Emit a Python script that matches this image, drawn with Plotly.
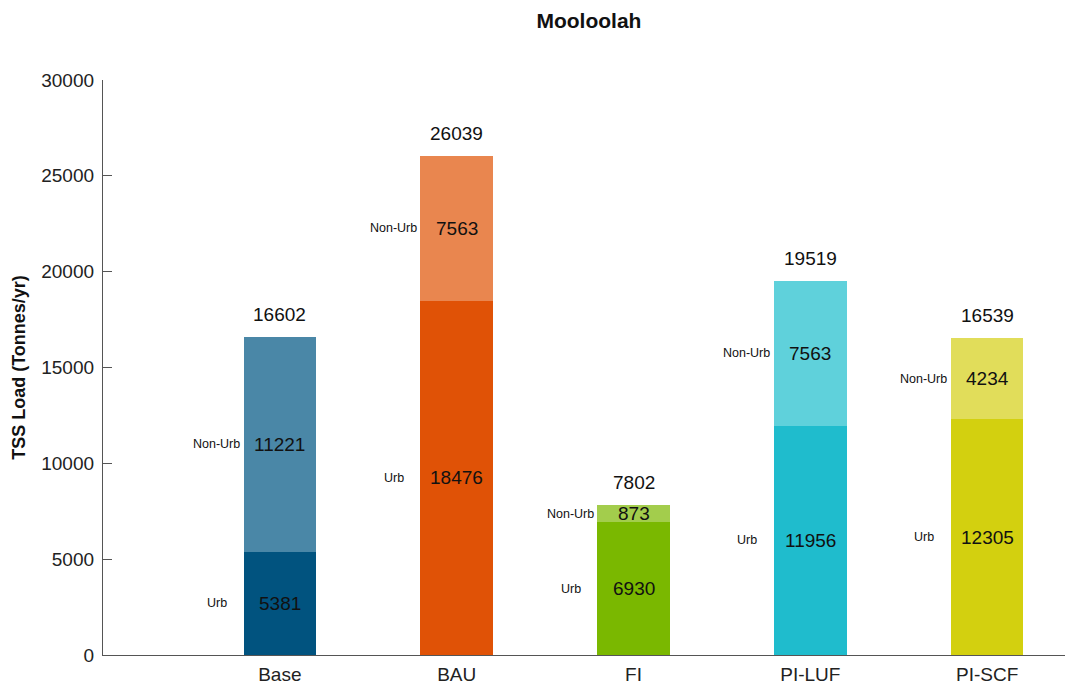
import plotly.graph_objects as go

scenarios = ["Base", "BAU", "FI", "PI-LUF", "PI-SCF"]
urb = [5381, 18476, 6930, 11956, 12305]
non_urb = [11221, 7563, 873, 7563, 4234]
totals = [16602, 26039, 7802, 19519, 16539]

urb_colors = ["#01537f", "#e05206", "#7ab800", "#1fbccd", "#d3d00f"]
non_urb_colors = ["#4a87a7", "#e9864f", "#a3cd4c", "#5fd1db", "#e1dd5a"]

fig = go.Figure()
fig.add_trace(go.Bar(x=scenarios, y=urb, marker=dict(color=urb_colors, line_width=0),
                     width=0.41, name="Urb"))
fig.add_trace(go.Bar(x=scenarios, y=non_urb, marker=dict(color=non_urb_colors, line_width=0),
                     width=0.41, name="Non-Urb"))

annotations = []
for s, u, n, t in zip(scenarios, urb, non_urb, totals):
    # values in the middle of each segment
    annotations.append(dict(x=s, y=u / 2, text=str(u), showarrow=False,
                            font=dict(size=19, color="#111")))
    annotations.append(dict(x=s, y=u + n / 2, text=str(n), showarrow=False,
                            font=dict(size=19, color="#111")))
    # side labels
    annotations.append(dict(x=s, y=u / 2, text="Urb", showarrow=False, xanchor="right",
                            xshift=-51, font=dict(size=12.5, color="#111")))
    annotations.append(dict(x=s, y=u + n / 2, text="Non-Urb", showarrow=False, xanchor="right",
                            xshift=-38, font=dict(size=12.5, color="#111")))
    # totals on top
    annotations.append(dict(x=s, y=t, text=str(t), showarrow=False, yanchor="bottom",
                            yshift=10, font=dict(size=19, color="#111")))

fig.update_layout(
    width=1065, height=686,
    barmode="stack",
    showlegend=False,
    plot_bgcolor="white",
    paper_bgcolor="white",
    font=dict(family="Arial, Liberation Sans, sans-serif", color="#222"),
    margin=dict(l=103, r=0, t=80, b=31),
    title=dict(text="<b>Mooloolah</b>", x=0.553, xanchor="center", y=0.98, yanchor="top",
               font=dict(size=21, color="#111")),
    xaxis=dict(range=[-1, 4.44], showline=True, linecolor="#555", linewidth=1.3,
               ticks="", ticklabelstandoff=2, automargin=False,
               tickfont=dict(size=19, color="#222"), showgrid=False),
    yaxis=dict(range=[0, 30000], dtick=5000, tickformat="d", showline=True, linecolor="#555",
               linewidth=1.3, automargin=False, ticklabelstandoff=4,
               ticks="inside", ticklen=9, tickwidth=1.3, tickcolor="#555",
               tickfont=dict(size=19, color="#222"),
               showgrid=False, zeroline=False,
               title=dict(text="<b>TSS Load (Tonnes/yr)</b>", font=dict(size=18, color="#111"),
                          standoff=10)),
    annotations=annotations,
)

fig.write_html("out.html", config={"displayModeBar": False},
               post_script="document.body.style.margin='0px';")
